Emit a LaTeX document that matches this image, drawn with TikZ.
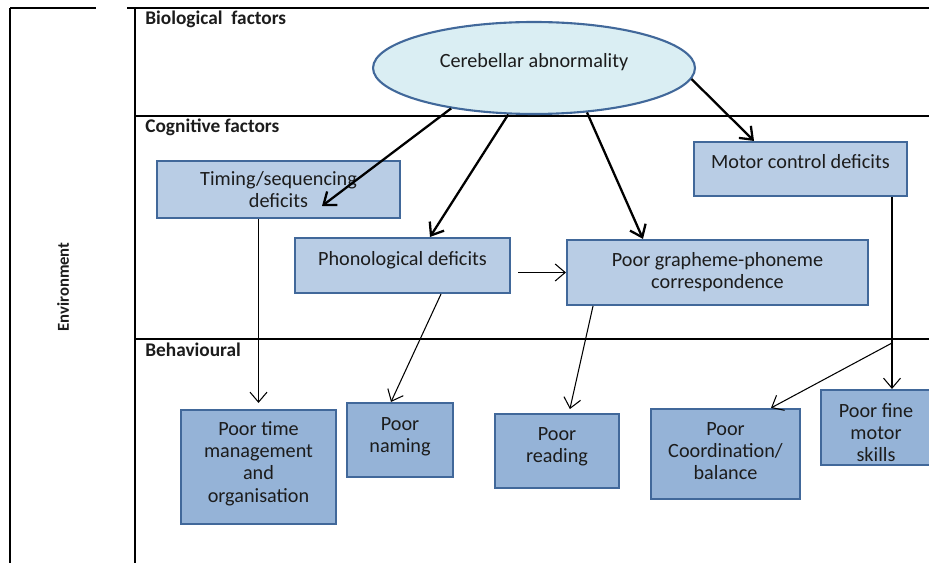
\documentclass[tikz,border=0pt]{standalone}
\usepackage{fontspec}
\setmainfont{Carlito}
\usetikzlibrary{shapes.geometric,arrows.meta,positioning,calc}
\definecolor{boxedge}{HTML}{41689A}
\definecolor{cogfill}{HTML}{B9CDE5}
\definecolor{behfill}{HTML}{95B3D7}
\definecolor{ovalfill}{HTML}{DAEEF3}
\definecolor{inktext}{HTML}{1C1C1C}
\tikzset{
  cogbox/.style={rectangle, draw=boxedge, line width=1.2pt, fill=cogfill, align=center, text=inktext, inner sep=1pt, font=\fontsize{11.5}{12.6}\selectfont},
  behbox/.style={cogbox, fill=behfill},
  oval/.style={ellipse, draw=boxedge, line width=1.2pt, fill=ovalfill, align=center, text=inktext, inner sep=0pt, font=\fontsize{11.5}{12.6}\selectfont},
  bigflow/.style={-{Straight Barb[length=2.2mm,width=3.4mm]}, line width=1.3pt},
  flow/.style={-{Straight Barb[length=2mm,width=3.4mm]}, line width=0.6pt},
  frame/.style={line width=0.7pt},
  tier/.style={anchor=west, inner sep=0pt, text=inktext, font=\bfseries\fontsize{11}{12}\selectfont},
}
\begin{document}
\begin{tikzpicture}[x=0.02cm, y=-0.02cm]
  \useasboundingbox (0,0) rectangle (929,563);
  % frames and tiers
  \draw[frame] (10,8) -- (96,8);
  \draw[frame] (10,8) -- (10,563);
  \draw[frame] (127,8) -- (929,8);
  \draw[frame] (135,8) -- (135,563);
  \draw[frame] (135,116) -- (929,116);
  \draw[frame] (135,339) -- (929,339);
  \node[tier] (bio) at (145,19) {Biological\ \ factors};
  \node[tier] (cog) at (145,127) {Cognitive factors};
  \node[tier] (beh) at (145,350) {Behavioural};
  \node[rotate=90, text=inktext, font=\bfseries\fontsize{9.5}{10}\selectfont] (env) at (63,287) {Environment};
  % nodes
  \node[oval, minimum width=6.44cm, minimum height=1.84cm, text depth=8.1pt] (cereb) at (534,68) {Cerebellar abnormality};
  \node[cogbox, minimum width=4.86cm, minimum height=1.14cm] (timing) at (278.5,189.5) {Timing/sequencing\\deficits};
  \node[cogbox, minimum width=4.3cm, minimum height=1.1cm, text depth=7.6pt] (phono) at (402.5,265.5) {Phonological deficits};
  \node[cogbox, minimum width=6.02cm, minimum height=1.3cm] (graph) at (717.5,272.5) {Poor grapheme-phoneme\\correspondence};
  \node[cogbox, minimum width=4.26cm, minimum height=1.08cm, text depth=8.1pt] (motor) at (800.5,169) {Motor control deficits};
  \node[behbox, minimum width=3.1cm, minimum height=2.28cm, text depth=5.8pt] (timemgmt) at (258.5,467) {Poor time\\management\\and\\organisation};
  \node[behbox, minimum width=2.12cm, minimum height=1.48cm, text depth=5.8pt] (naming) at (400,440) {Poor\\naming};
  \node[behbox, minimum width=2.48cm, minimum height=1.48cm, text depth=7pt] (reading) at (557,451) {Poor\\reading};
  \node[behbox, minimum width=2.98cm, minimum height=1.8cm, text depth=3.4pt] (coord) at (725.5,454) {Poor\\Coordination/\\balance};
  \node[behbox, minimum width=2.2cm, minimum height=1.5cm, text height=38.6pt] (finemotor) at (876,427.5) {Poor fine\\motor\\skills};
  \coordinate (split) at (892,343);
  % connectors
  \draw[bigflow] (cereb.206) -- ($(timing.center)+(43.5,16.5)$);
  \draw[bigflow] (cereb.241) -- ($(phono.north)+(27.5,0)$);
  \draw[bigflow] (cereb.320) -- ($(graph.north)+(-74.5,0)$);
  \draw[bigflow] (cereb.356) -- ($(motor.north)+(-46.5,0)$);
  \draw[flow, shorten >=0.12cm] (timing.south -| timemgmt.north) -- (timemgmt.north);
  \draw[flow] ($(phono.south)+(38.5,0)$) -- ($(naming.north)+(-9,0)$);
  \draw[flow, shorten <=0.14cm] (phono.east |- graph.west) -- (graph.west);
  \draw[flow, shorten >=0.08cm] ($(graph.south)+(-124.5,0)$) -- ($(reading.north)+(12,0)$);
  \draw[flow] (motor.south -| split) -- (finemotor.north -| split);
  \draw[flow] (split) -- ($(coord.north)+(45.5,0)$);
\end{tikzpicture}
\end{document}
